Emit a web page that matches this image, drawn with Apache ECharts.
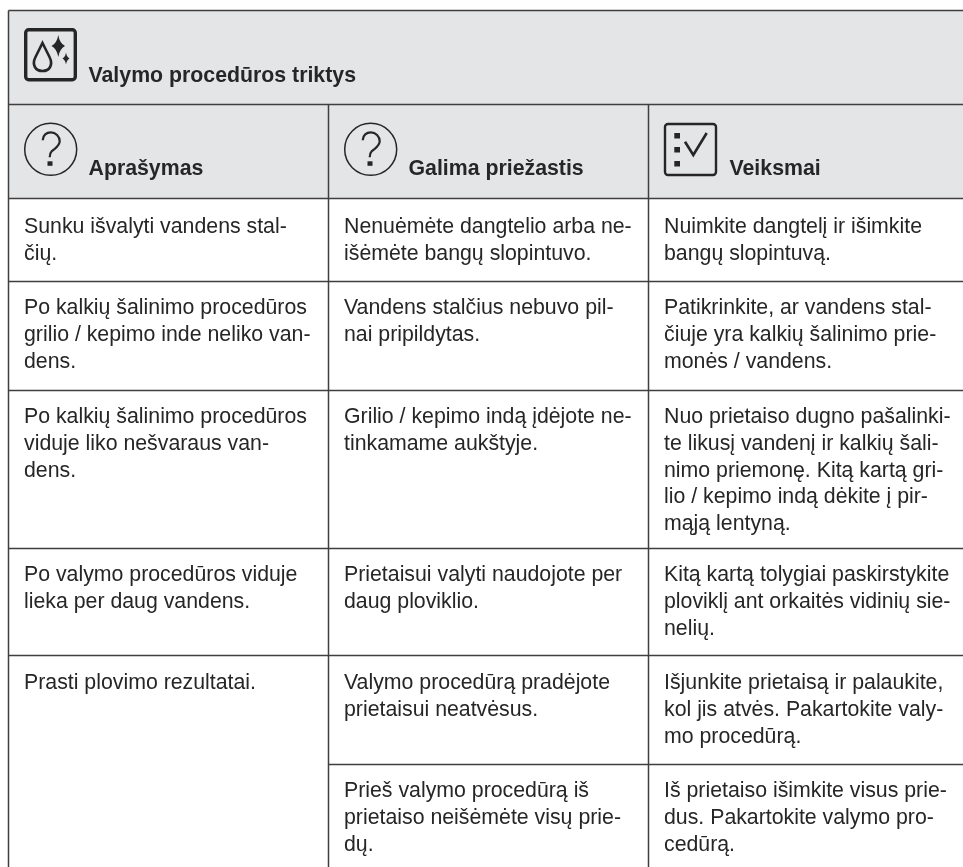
<!DOCTYPE html>
<html>
<head>
<meta charset="utf-8">
<style>
html, body { margin: 0; padding: 0; background: #fff; }
#main { width: 963px; height: 867px; }
</style>
<script src="https://cdn.jsdelivr.net/npm/echarts@6/dist/echarts.min.js"></script>
</head>
<body>
<div id="main"></div>
<script>
var tableTitle = 'Valymo procedūros triktys';
var columnTitles = ['Aprašymas', 'Galima priežastis', 'Veiksmai'];

// one entry per row, line breaks as printed
var descriptions = [
    ['Sunku išvalyti vandens stal-', 'čių.'],
    ['Po kalkių šalinimo procedūros', 'grilio / kepimo inde neliko van-', 'dens.'],
    ['Po kalkių šalinimo procedūros', 'viduje liko nešvaraus van-', 'dens.'],
    ['Po valymo procedūros viduje', 'lieka per daug vandens.'],
    ['Prasti plovimo rezultatai.'],
    []
];
var causes = [
    ['Nenuėmėte dangtelio arba ne-', 'išėmėte bangų slopintuvo.'],
    ['Vandens stalčius nebuvo pil-', 'nai pripildytas.'],
    ['Grilio / kepimo indą įdėjote ne-', 'tinkamame aukštyje.'],
    ['Prietaisui valyti naudojote per', 'daug ploviklio.'],
    ['Valymo procedūrą pradėjote', 'prietaisui neatvėsus.'],
    ['Prieš valymo procedūrą iš', 'prietaiso neišėmėte visų prie-', 'dų.']
];
var actions = [
    ['Nuimkite dangtelį ir išimkite', 'bangų slopintuvą.'],
    ['Patikrinkite, ar vandens stal-', 'čiuje yra kalkių šalinimo prie-', 'monės / vandens.'],
    ['Nuo prietaiso dugno pašalinki-', 'te likusį vandenį ir kalkių šali-', 'nimo priemonę. Kitą kartą gri-', 'lio / kepimo indą dėkite į pir-', 'mąją lentyną.'],
    ['Kitą kartą tolygiai paskirstykite', 'ploviklį ant orkaitės vidinių sie-', 'nelių.'],
    ['Išjunkite prietaisą ir palaukite,', 'kol jis atvės. Pakartokite valy-', 'mo procedūrą.'],
    ['Iš prietaiso išimkite visus prie-', 'dus. Pakartokite valymo pro-', 'cedūrą.']
];

// table layout, in page pixels
var colEdges = [8, 328, 648, 963];
var rowEdges = [10, 104, 198, 281, 390, 548, 655, 764, 867];
var firstLine = [29.5, 27.5, 27.5, 27.5, 28.5, 27.5];
var lineGap = 26.6;
var textColor = '#262626';
var ruleColor = '#3f3f3f';
var headFill = '#e4e5e7';
var fontName = '"Liberation Sans", Arial, sans-serif';

var textRows = [];
function addCell(col, row, lines) {
    lines.forEach(function (line, i) {
        textRows.push([colEdges[col] + 16, rowEdges[row + 2] + firstLine[row] + i * lineGap, line]);
    });
}
[descriptions, causes, actions].forEach(function (list, col) {
    list.forEach(function (lines, row) { addCell(col, row, lines); });
});

var ruleRows = [
    [colEdges[0], rowEdges[0], colEdges[3], rowEdges[0]],
    [colEdges[0], rowEdges[1], colEdges[3], rowEdges[1]],
    [colEdges[0], rowEdges[2], colEdges[3], rowEdges[2]],
    [colEdges[0], rowEdges[3], colEdges[3], rowEdges[3]],
    [colEdges[0], rowEdges[4], colEdges[3], rowEdges[4]],
    [colEdges[0], rowEdges[5], colEdges[3], rowEdges[5]],
    [colEdges[0], rowEdges[6], colEdges[3], rowEdges[6]],
    [colEdges[1], rowEdges[7], colEdges[3], rowEdges[7]],
    [colEdges[0], rowEdges[0], colEdges[0], rowEdges[8]],
    [colEdges[1], rowEdges[1], colEdges[1], rowEdges[8]],
    [colEdges[2], rowEdges[1], colEdges[2], rowEdges[8]]
];

var headRows = [
    [88.5, 76, tableTitle],
    [88.5, 169.5, columnTitles[0]],
    [408.5, 169.5, columnTitles[1]],
    [729.5, 169.5, columnTitles[2]]
];

var questionPath = 'M-8,-9 C-8,-14 -4,-17 0,-17 C5,-17 9,-13 9,-8 C9,-3 4,-1 1,2 C-1,4 -1,6 -1,8';

function questionIcon(cx, cy) {
    return {
        type: 'group', x: cx, y: cy,
        children: [
            { type: 'circle', shape: { cx: 0, cy: 0, r: 26 }, style: { fill: 'none', stroke: '#262626', lineWidth: 1.5 } },
            { type: 'path', shape: { pathData: questionPath }, style: { fill: 'none', stroke: '#262626', lineWidth: 2.2 } },
            { type: 'rect', shape: { x: -3.2, y: 12, width: 5, height: 4.5 }, style: { fill: '#262626' } }
        ]
    };
}

function cleaningIcon(x, y) {
    return {
        type: 'group', x: x, y: y,
        children: [
            { type: 'rect', shape: { x: 1.7, y: 1.7, width: 49.6, height: 50, r: 3 }, style: { fill: 'none', stroke: '#262626', lineWidth: 3.4 } },
            { type: 'path', shape: { pathData: 'M18.5,15 L25.5,29 C29.5,37 25.5,43 18.5,43 C11.5,43 7.5,37 11.5,29 Z' }, style: { fill: 'none', stroke: '#262626', lineWidth: 2.6 } },
            { type: 'path', shape: { pathData: 'M34.3,7 Q35.5,15 41,18 Q35.5,21 34.3,29 Q33,21 27.5,18 Q33,15 34.3,7 Z' }, style: { fill: '#262626' } },
            { type: 'path', shape: { pathData: 'M42,24.5 Q42.7,29 45.5,30.5 Q42.7,32 42,36.5 Q41.3,32 38.5,30.5 Q41.3,29 42,24.5 Z' }, style: { fill: '#262626' } }
        ]
    };
}

function checklistIcon(x, y) {
    return {
        type: 'group', x: x, y: y,
        children: [
            { type: 'rect', shape: { x: 1, y: 1, width: 51, height: 51, r: 3 }, style: { fill: 'none', stroke: '#262626', lineWidth: 2.4 } },
            { type: 'rect', shape: { x: 10.3, y: 10, width: 5.7, height: 5.5 }, style: { fill: '#262626' } },
            { type: 'rect', shape: { x: 10.3, y: 24, width: 5.7, height: 5.5 }, style: { fill: '#262626' } },
            { type: 'rect', shape: { x: 10.3, y: 38, width: 5.7, height: 5.5 }, style: { fill: '#262626' } },
            { type: 'path', shape: { pathData: 'M21,18.7 L29.3,32 L42.7,10' }, style: { fill: 'none', stroke: '#262626', lineWidth: 2.6 } }
        ]
    };
}

var chart = echarts.init(document.getElementById('main'), null, { renderer: 'canvas' });

var option = {
    animation: false,
    grid: { left: 0, right: 0, top: 0, bottom: 0 },
    xAxis: { type: 'value', min: 0, max: 963, show: false },
    yAxis: { type: 'value', min: 0, max: 867, inverse: true, show: false },
    series: [
        {
            // grey header block
            type: 'custom', silent: true, z: 1,
            data: [[colEdges[0], rowEdges[0], colEdges[3], rowEdges[2]]],
            encode: { x: [0, 2], y: [1, 3] },
            renderItem: function (params, api) {
                var a = api.coord([api.value(0), api.value(1)]);
                var b = api.coord([api.value(2), api.value(3)]);
                return { type: 'rect', shape: { x: a[0], y: a[1], width: b[0] - a[0], height: b[1] - a[1] }, style: { fill: headFill } };
            }
        },
        {
            type: 'custom', silent: true, z: 2,
            data: ruleRows,
            encode: { x: [0, 2], y: [1, 3] },
            renderItem: function (params, api) {
                var a = api.coord([api.value(0), api.value(1)]);
                var b = api.coord([api.value(2), api.value(3)]);
                return { type: 'line', shape: { x1: a[0] + 0.5, y1: a[1] + 0.5, x2: b[0] + 0.5, y2: b[1] + 0.5 }, style: { stroke: ruleColor, lineWidth: 1.5 } };
            }
        },
        {
            type: 'custom', silent: true, z: 3,
            data: textRows,
            encode: { x: 0, y: 1 },
            renderItem: function (params, api) {
                var p = api.coord([api.value(0), api.value(1)]);
                return {
                    type: 'text', x: p[0], y: p[1],
                    style: { text: textRows[params.dataIndex][2], fill: textColor, font: '21.3px ' + fontName, textAlign: 'left', textVerticalAlign: 'middle' }
                };
            }
        },
        {
            type: 'custom', silent: true, z: 3,
            data: headRows,
            encode: { x: 0, y: 1 },
            renderItem: function (params, api) {
                var p = api.coord([api.value(0), api.value(1)]);
                return {
                    type: 'text', x: p[0], y: p[1],
                    style: { text: headRows[params.dataIndex][2], fill: textColor, font: 'bold 21.3px ' + fontName, textAlign: 'left', textVerticalAlign: 'middle' }
                };
            }
        },
        {
            type: 'custom', silent: true, z: 4,
            data: [[0]],
            encode: { x: 0, y: 0 },
            renderItem: function () {
                return {
                    type: 'group',
                    children: [
                        cleaningIcon(24, 28),
                        questionIcon(50.7, 149.3),
                        questionIcon(370.7, 149.3),
                        checklistIcon(664, 123)
                    ]
                };
            }
        }
    ]
};
chart.setOption(option);
</script>
</body>
</html>
